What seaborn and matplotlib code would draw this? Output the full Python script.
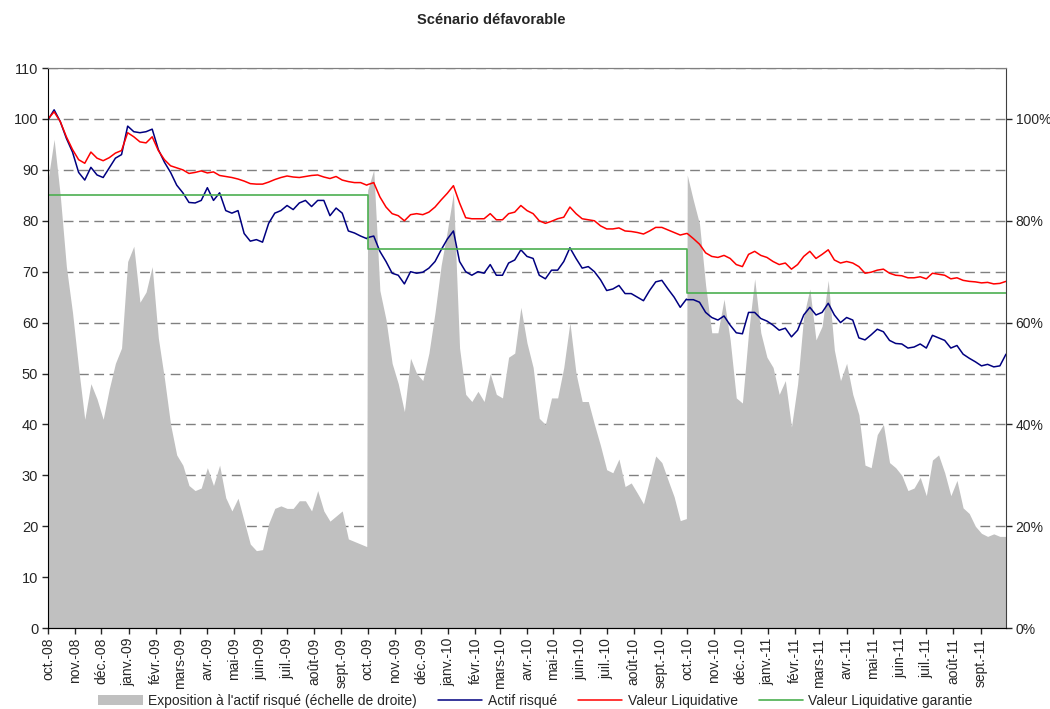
import numpy as np
import pandas as pd
import matplotlib
matplotlib.use('Agg')
import matplotlib.pyplot as plt
import matplotlib.dates as mdates
from matplotlib.ticker import FuncFormatter, MultipleLocator
import seaborn as sns

# une date par semaine, un bloc par année de garantie
dates_an1 = pd.date_range('2008-10-01', '2009-09-30', freq='7D')
dates_an2 = pd.date_range('2009-10-01', '2010-09-30', freq='7D')
dates_an3 = pd.date_range('2010-10-01', '2011-09-30', freq='7D')
dates = dates_an1.append(dates_an2).append(dates_an3)

actif = [
    # oct. 2008 - sept. 2009
    99.8, 101.8, 99.5, 96.2, 93.5, 89.5, 88.0, 90.5, 89.0, 88.5,
    90.4, 92.3, 93.0, 98.6, 97.5, 97.3, 97.5, 98.0, 94.0, 91.5,
    89.5, 87.0, 85.5, 83.6, 83.5, 84.0, 86.5, 84.0, 85.5, 82.0,
    81.5, 82.0, 77.5, 76.0, 76.3, 75.8, 79.5, 81.5, 82.0, 83.0,
    82.2, 83.5, 84.0, 82.8, 84.0, 84.0, 81.0, 82.5, 81.5, 78.0,
    77.6, 77.0, 76.5,
    # oct. 2009 - sept. 2010
    76.7, 77.0, 74.0, 72.0, 69.7, 69.3, 67.6, 70.0, 69.7, 69.9,
    70.7, 72.0, 74.3, 76.4, 78.0, 72.0, 70.0, 69.3, 70.0, 69.7,
    71.4, 69.3, 69.3, 71.7, 72.3, 74.3, 73.0, 72.6, 69.3, 68.6,
    70.3, 70.3, 72.0, 74.7, 72.6, 70.7, 71.0, 70.0, 68.4, 66.3,
    66.6, 67.3, 65.7, 65.7, 65.0, 64.3, 66.3, 68.0, 68.3, 66.6,
    65.0, 63.0, 64.6,
    # oct. 2010 - sept. 2011
    64.5, 64.5, 64.0, 62.0, 61.0, 60.5, 61.3, 59.5, 58.0, 57.8,
    62.0, 62.0, 60.8, 60.3, 59.5, 58.5, 58.9, 57.2, 58.5, 61.5,
    63.0, 61.5, 62.0, 63.8, 61.5, 60.0, 61.0, 60.5, 57.0, 56.6,
    57.6, 58.7, 58.2, 56.5, 55.9, 55.8, 55.0, 55.2, 55.8, 55.0,
    57.5, 57.0, 56.5, 55.0, 55.5, 53.8, 53.0, 52.3, 51.5, 51.8,
    51.3, 51.5, 53.8,
]

valeur_liquidative = [
    100.0, 101.4, 99.5, 96.5, 94.0, 92.0, 91.3, 93.5, 92.3, 91.8,
    92.4, 93.3, 93.8, 97.3, 96.5, 95.5, 95.3, 96.5, 93.8, 92.0,
    90.8, 90.4, 90.0, 89.3, 89.5, 89.8, 89.4, 89.6, 88.9, 88.7,
    88.5, 88.2, 87.8, 87.3, 87.2, 87.2, 87.6, 88.1, 88.5, 88.8,
    88.6, 88.5, 88.7, 88.9, 89.0, 88.6, 88.3, 88.7, 88.0, 87.7,
    87.5, 87.5, 87.0,
    87.1, 87.5, 84.7, 82.7, 81.4, 81.0, 80.0, 81.2, 81.4, 81.2,
    81.7, 82.7, 84.1, 85.4, 86.9, 83.5, 80.6, 80.4, 80.4, 80.4,
    81.4, 80.2, 80.2, 81.4, 81.7, 83.0, 82.0, 81.4, 80.0, 79.5,
    79.9, 80.4, 80.7, 82.7, 81.4, 80.4, 80.2, 80.0, 79.0, 78.4,
    78.4, 78.6, 78.0, 77.9, 77.7, 77.4, 78.0, 78.7, 78.7, 78.2,
    77.7, 77.2, 77.5,
    77.5, 76.5, 75.4, 73.7, 73.0, 72.8, 73.2, 72.6, 71.4, 71.0,
    73.4, 74.0, 73.2, 72.8, 72.0, 71.4, 71.7, 70.5, 71.4, 73.0,
    74.0, 72.6, 73.4, 74.3, 72.3, 71.7, 72.0, 71.7, 71.0, 69.7,
    69.9, 70.3, 70.5, 69.7, 69.3, 69.2, 68.8, 68.8, 69.0, 68.6,
    69.7, 69.5, 69.3, 68.6, 68.8, 68.3, 68.1, 68.0, 67.8, 67.9,
    67.6, 67.7, 68.1,
]

# exposition en % (échelle de droite)
exposition = [
    88, 96, 85, 71, 62, 51, 41, 48, 45, 41,
    47, 52, 55, 72, 75, 64, 66, 71, 57, 49,
    40, 34, 32, 28, 27, 27.5, 31.5, 28, 32, 25.6,
    23, 25.5, 21, 16.5, 15.2, 15.4, 20.5, 23.5, 24, 23.5,
    23.5, 25, 25, 23, 27, 23, 21, 22, 23, 17.5,
    17, 16.5, 16,
    86, 90, 66.3, 60.6, 52, 48, 42.5, 53, 50, 48.6,
    54, 62, 71.3, 78, 85.5, 55, 45.9, 44.5, 46.5, 44.5,
    50, 45.9, 45.2, 53.2, 54, 63, 56, 51.2, 41.2, 40,
    45.2, 45.2, 51.2, 60, 50, 44.5, 44.5, 40, 35.8, 31.1,
    30.5, 33.2, 27.8, 28.5, 26.5, 24.4, 29.1, 33.8, 32.5, 29.1,
    25.8, 21.1, 21.5,
    89, 84, 79.4, 67.3, 58, 58, 64.6, 56.6, 45.2, 44.2,
    58, 68.6, 58, 53.2, 51.2, 45.9, 48.6, 39.5, 47.9, 61.3,
    66.6, 56.6, 59.3, 68.3, 54.6, 48.6, 52, 45.9, 41.9, 32,
    31.5, 38, 40, 32.5, 31.5, 30, 27, 27.5, 29.6, 26,
    33, 34, 30.5, 26, 29, 23.6, 22.5, 20, 18.6, 18,
    18.5, 18, 18,
]

garantie_dates = pd.to_datetime(['2008-10-01', '2009-10-01', '2010-10-01', '2011-09-30'])
garantie = [85.0, 74.4, 65.8, 65.8]

mois = ['janv.', 'févr.', 'mars', 'avr.', 'mai', 'juin',
        'juil.', 'août', 'sept.', 'oct.', 'nov.', 'déc.']

sns.set_style('ticks')
plt.rcParams['font.family'] = ['Liberation Sans', 'DejaVu Sans']

fig = plt.figure(figsize=(10.5, 7.09), dpi=100)
ax = fig.add_axes([0.0457, 0.1142, 0.9124, 0.7898])
ax2 = ax.twinx()
ax.set_zorder(ax2.get_zorder() + 1)
ax.patch.set_visible(False)

# aire grise sur l'échelle de droite
ax2.fill_between(dates, exposition, color='#C0C0C0', lw=0,
                 label="Exposition à l'actif risqué (échelle de droite)")
ax2.set_ylim(0, 110)
ax2.set_yticks([0, 20, 40, 60, 80, 100])
ax2.yaxis.set_major_formatter(FuncFormatter(lambda v, p: '%d%%' % v))
ax2.yaxis.set_minor_locator(MultipleLocator(10))
ax2.set_axisbelow(True)
ax2.grid(axis='y', which='both', color='#808080', lw=1, linestyle=(0, (7, 4)))
ax2.tick_params(axis='y', which='major', length=4, width=1, labelsize=10, pad=3)
ax2.tick_params(axis='y', which='minor', length=0)

sns.lineplot(x=dates, y=actif, ax=ax, color='#000080', lw=1.1, label='Actif risqué')
sns.lineplot(x=dates, y=valeur_liquidative, ax=ax, color='#FF0000', lw=1.1, label='Valeur Liquidative')
sns.lineplot(x=garantie_dates, y=garantie, ax=ax, color='#4CAF50', lw=1.2,
             drawstyle='steps-post', label='Valeur Liquidative garantie')

ax.set_ylim(0, 110)
ax.set_yticks(range(0, 111, 10))
ax.set_xlim(pd.Timestamp('2008-10-01'), pd.Timestamp('2011-09-30'))
ax.xaxis.set_major_locator(mdates.MonthLocator())
ax.xaxis.set_major_formatter(FuncFormatter(
    lambda v, p: '%s-%s' % (mois[mdates.num2date(v).month - 1], mdates.num2date(v).strftime('%y'))))
ax.tick_params(axis='x', length=4, width=1, labelsize=10, rotation=90, pad=3)
ax.tick_params(axis='y', length=4, width=1, labelsize=10.5, pad=3)
ax.set_xlabel('')
ax.set_ylabel('')

for a in (ax, ax2):
    a.spines['top'].set_color('#808080')
ax.spines['left'].set_color('black')
ax.spines['bottom'].set_color('black')
ax.spines['right'].set_visible(False)
ax2.spines['left'].set_visible(False)
ax2.spines['right'].set_color('#404040')

fig.text(0.468, 0.972, 'Scénario défavorable', ha='center', va='center',
         fontsize=10.5, fontweight='bold')

h2, l2 = ax2.get_legend_handles_labels()
h1, l1 = ax.get_legend_handles_labels()
ax.get_legend().remove()
fig.legend(h2 + h1, l2 + l1, loc='center', bbox_to_anchor=(0.51, 0.011), ncol=4,
           frameon=False, fontsize=10, handlelength=3.2, columnspacing=1.5,
           handletextpad=0.4)

fig.savefig('out.png', dpi=100)
